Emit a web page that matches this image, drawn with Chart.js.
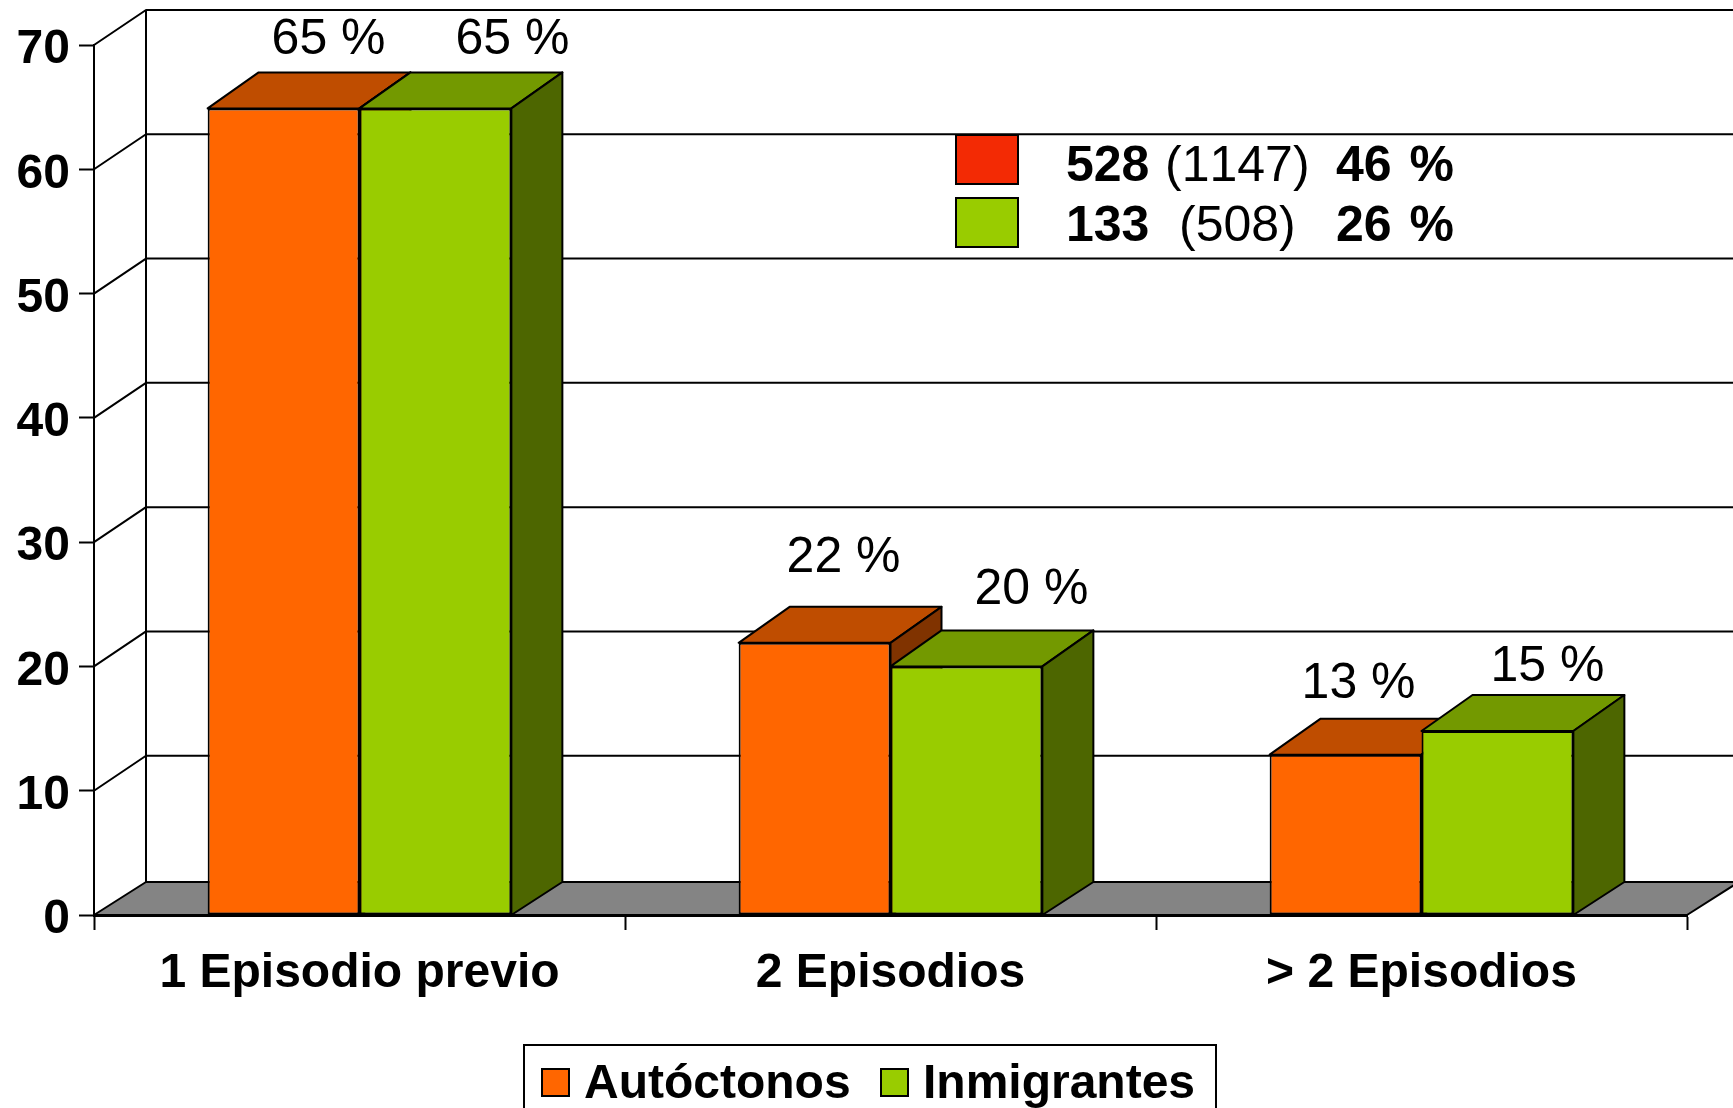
<!DOCTYPE html>
<html>
<head>
<meta charset="utf-8">
<title>Episodios previos</title>
<script src="https://cdn.jsdelivr.net/npm/chart.js@4"></script>
<style>
    html, body { margin: 0; padding: 0; background: #fff; overflow: hidden; }
    canvas { display: block; }
</style>
</head>
<body>
<canvas id="episodiosChart" width="1733" height="1108"></canvas>
<script>
const categories = ['1 Episodio previo', '2 Episodios', '> 2 Episodios'];
const seriesNames = ['Autóctonos', 'Inmigrantes'];
const autoctonos = [64.9, 21.9, 12.9];
const inmigrantes = [64.9, 20, 14.8];
const yTicks = [0, 10, 20, 30, 40, 50, 60, 70];

// small box inside the chart
const insetCounts = ['528', '133'];
const insetTotals = ['(1147)', '(508)'];
const insetPercents = ['46 %', '26 %'];

const ORANGE = { front: '#FF6600', top: '#BF4D00', side: '#803300' };
const GREEN = { front: '#99CC00', top: '#739900', side: '#4D6600' };
const FONT = '"Liberation Sans", Arial, sans-serif';

// the percentages were placed by hand in the original, offsets from the top of each bar
const labelShift = [
    [[45, -54], [29, -71], [13, -57]],
    [[77, -54], [65, -62], [50, -50]]
];

const wallDx = 52;
const barDx = 51;
const wallDy = 35;
const floorDy = 33;
const barDy = 36;

function fillStroke(ctx, points, fill) {
    ctx.beginPath();
    points.forEach((p, i) => i ? ctx.lineTo(p[0], p[1]) : ctx.moveTo(p[0], p[1]));
    ctx.closePath();
    ctx.fillStyle = fill;
    ctx.fill();
    ctx.stroke();
}

const boxPlugin = {
    id: 'box3d',
    beforeDatasetsDraw(chart) {
        const { ctx, chartArea, scales: { y } } = chart;
        const left = chartArea.left;
        const right = chartArea.right;
        const zero = y.getPixelForValue(0);
        const backZero = zero - floorDy;

        ctx.save();
        ctx.strokeStyle = '#000';
        ctx.lineWidth = 2;
        ctx.lineJoin = 'round';

        // floor
        fillStroke(ctx, [[left, zero], [left + wallDx, backZero], [right + wallDx, backZero], [right, zero]], '#848484');

        // back wall
        yTicks.filter(value => value > 0).forEach(value => {
            const front = y.getPixelForValue(value);
            ctx.beginPath();
            ctx.moveTo(left, front);
            ctx.lineTo(left + wallDx, front - wallDy);
            ctx.lineTo(right + wallDx, front - wallDy);
            ctx.stroke();
        });
        ctx.beginPath();
        ctx.moveTo(left + wallDx, backZero);
        ctx.lineTo(left + wallDx, y.getPixelForValue(70) - wallDy);
        ctx.stroke();

        // tops and sides, orange first so the green ones cover them
        [ORANGE, GREEN].forEach((colors, d) => {
            chart.getDatasetMeta(d).data.forEach(bar => {
                const x0 = bar.x - bar.width / 2;
                const x1 = bar.x + bar.width / 2;
                fillStroke(ctx, [[x0, bar.y], [x0 + barDx, bar.y - barDy], [x1 + barDx, bar.y - barDy], [x1, bar.y]], colors.top);
                fillStroke(ctx, [[x1, bar.y], [x1 + barDx, bar.y - barDy], [x1 + barDx, backZero], [x1, zero]], colors.side);
            });
        });
        ctx.restore();
    },
    afterDraw(chart) {
        const { ctx } = chart;
        ctx.save();
        ctx.fillStyle = '#000';
        ctx.textBaseline = 'alphabetic';
        ctx.fontKerning = 'none';

        // percent labels
        ctx.font = '50px ' + FONT;
        ctx.textAlign = 'center';
        chart.data.datasets.forEach((ds, d) => {
            chart.getDatasetMeta(d).data.forEach((bar, i) => {
                ctx.fillText(Math.round(ds.data[i]) + ' %', bar.x + labelShift[d][i][0], bar.y + labelShift[d][i][1]);
            });
        });

        // inset box
        ctx.textAlign = 'left';
        ctx.strokeStyle = '#000';
        ctx.lineWidth = 2;
        const insetY = [181, 241];
        const swatchY = [135, 198];
        const totalX = [1165, 1179];
        ['#F32A04', GREEN.front].forEach((color, i) => {
            ctx.fillStyle = color;
            ctx.fillRect(956, swatchY[i], 62, 49);
            ctx.strokeRect(956, swatchY[i], 62, 49);
            ctx.fillStyle = '#000';
            ctx.font = 'bold 50px ' + FONT;
            ctx.fillText(insetCounts[i], 1066, insetY[i]);
            ctx.wordSpacing = '4px';
            ctx.fillText(insetPercents[i], 1336, insetY[i]);
            ctx.wordSpacing = '0px';
            ctx.font = '50px ' + FONT;
            ctx.fillText(insetTotals[i], totalX[i], insetY[i]);
        });

        // legend
        ctx.strokeRect(524, 1045, 692, 70);
        ctx.font = 'bold 48px ' + FONT;
        [[542, 584, ORANGE], [881, 923, GREEN]].forEach((item, i) => {
            ctx.fillStyle = item[2].front;
            ctx.fillRect(item[0], 1069, 27, 27);
            ctx.strokeRect(item[0], 1069, 27, 27);
            ctx.fillStyle = '#000';
            ctx.fillText(seriesNames[i], item[1], 1098);
        });
        ctx.restore();
    }
};

Chart.defaults.font.family = FONT;
Chart.defaults.color = '#000';

new Chart(document.getElementById('episodiosChart').getContext('2d'), {
    type: 'bar',
    data: {
        labels: categories,
        datasets: [
            { label: seriesNames[0], data: autoctonos, backgroundColor: ORANGE.front },
            { label: seriesNames[1], data: inmigrantes, backgroundColor: GREEN.front }
        ]
    },
    options: {
        responsive: false,
        animation: false,
        layout: { padding: { left: 0, top: 45, right: 46, bottom: 0 } },
        datasets: {
            bar: {
                categoryPercentage: 0.572,
                barPercentage: 1,
                borderColor: '#000',
                borderWidth: 2,
                borderSkipped: false
            }
        },
        plugins: {
            legend: { display: false },
            tooltip: { enabled: false }
        },
        scales: {
            x: {
                afterFit: scale => { scale.height = 193; },
                border: { color: '#000', width: 3 },
                grid: { drawOnChartArea: false, tickLength: 15, tickColor: '#000', tickWidth: 2 },
                ticks: { font: { size: 48, weight: 'bold' }, padding: 15, maxRotation: 0, autoSkip: false }
            },
            y: {
                min: 0,
                max: 70,
                afterFit: scale => { scale.width = 94; },
                afterBuildTicks: scale => { scale.ticks = yTicks.map(value => ({ value })); },
                border: { color: '#000', width: 2 },
                grid: { drawOnChartArea: false, tickLength: 15, tickColor: '#000', tickWidth: 2 },
                ticks: { font: { size: 48, weight: 'bold' }, padding: 9, labelOffset: 5 }
            }
        }
    },
    plugins: [boxPlugin]
});
</script>
</body>
</html>
